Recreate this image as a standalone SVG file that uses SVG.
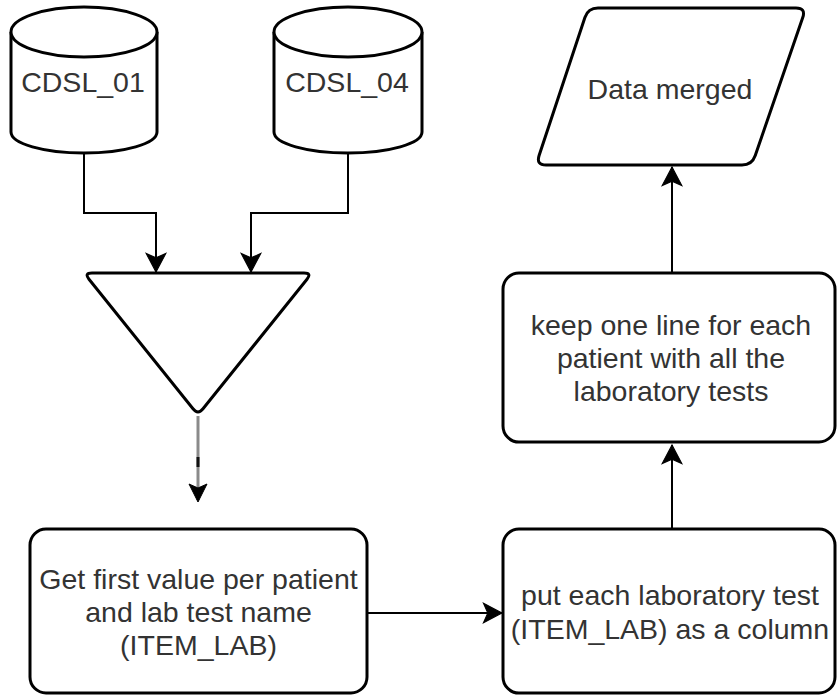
<svg xmlns="http://www.w3.org/2000/svg" width="837" height="696" viewBox="0 0 837 696">
<style>
.shape{fill:#ffffff;stroke:#000000;stroke-width:3;stroke-linejoin:round}
.edge{fill:none;stroke:#000000;stroke-width:2}
.lbl{font-family:"Liberation Sans",Arial,sans-serif;font-size:28.5px;fill:#333333;text-anchor:middle}
</style>
<defs>
<marker id="arrow" markerUnits="userSpaceOnUse" markerWidth="24" markerHeight="24" viewBox="-20 -11 22 22" refX="0" refY="0" orient="auto">
<path d="M0,0 L-17,-9 L-13,0 L-17,9 Z" fill="#000000" stroke="#000000" stroke-width="1" stroke-linejoin="miter"/>
</marker>
</defs>
<rect x="0" y="0" width="837" height="696" fill="#ffffff"/>
<g id="connectors">
<path class="edge" d="M84,153 L84,213 L156,213 L156,272" marker-end="url(#arrow)"/>
<path class="edge" d="M348,153 L348,213 L251,213 L251,272" marker-end="url(#arrow)"/>
<line x1="198" y1="416" x2="198" y2="500" stroke="#8a8a8a" stroke-width="3"/>
<line x1="198" y1="457" x2="198" y2="467" stroke="#111111" stroke-width="3"/>
<path d="M198,502 L189,484 L198,488 L207,484 Z" fill="#000000" stroke="#000000" stroke-width="1"/>
<path class="edge" d="M368,613 L502,613" marker-end="url(#arrow)"/>
<path class="edge" d="M672,528 L672,445" marker-end="url(#arrow)"/>
<path class="edge" d="M672,273 L672,167" marker-end="url(#arrow)"/>
</g>
<g id="cdsl01">
<path class="shape" d="M11,32 A73,25 0 0 1 157,32 L157,132 A73,21 0 0 1 11,132 Z"/>
<path class="shape" fill="none" d="M11,32 A73,25 0 0 0 157,32"/>
<text class="lbl" x="83" y="92">CDSL_01</text>
</g>
<g id="cdsl04">
<path class="shape" d="M274,32 A74,25 0 0 1 422,32 L422,132 A74,21 0 0 1 274,132 Z"/>
<path class="shape" fill="none" d="M274,32 A74,25 0 0 0 422,32"/>
<text class="lbl" x="347" y="92">CDSL_04</text>
</g>
<g id="merge">
<path class="shape" d="M92,273 L304,273 Q312,273 307,279.2 L203,408.8 Q198,415 193,408.8 L89,279.2 Q84,273 92,273 Z"/>
</g>
<g id="first-value">
<rect class="shape" x="30" y="529" width="337" height="164" rx="16" ry="16"/>
<text class="lbl" x="198.5" y="589">Get first value per patient</text>
<text class="lbl" x="198.5" y="622">and lab test name</text>
<text class="lbl" x="198.5" y="655">(ITEM_LAB)</text>
</g>
<g id="pivot">
<rect class="shape" x="503" y="529" width="332" height="164" rx="16" ry="16"/>
<text class="lbl" x="670" y="605">put each laboratory test</text>
<text class="lbl" x="670" y="639">(ITEM_LAB) as a column</text>
</g>
<g id="keep-one-line">
<rect class="shape" x="503" y="273" width="332" height="169" rx="16" ry="16"/>
<text class="lbl" x="671" y="335">keep one line for each</text>
<text class="lbl" x="671" y="368">patient with all the</text>
<text class="lbl" x="671" y="401">laboratory tests</text>
</g>
<g id="data-merged">
<path class="shape" d="M598,8 L796,8 Q806,8 802.75,17.46 L755.25,155.5 Q752,165 742,165 L546,165 Q536,165 539.1,155.5 L584.9,17.5 Q588,8 598,8 Z"/>
<text class="lbl" x="670" y="99">Data merged</text>
</g>
</svg>
